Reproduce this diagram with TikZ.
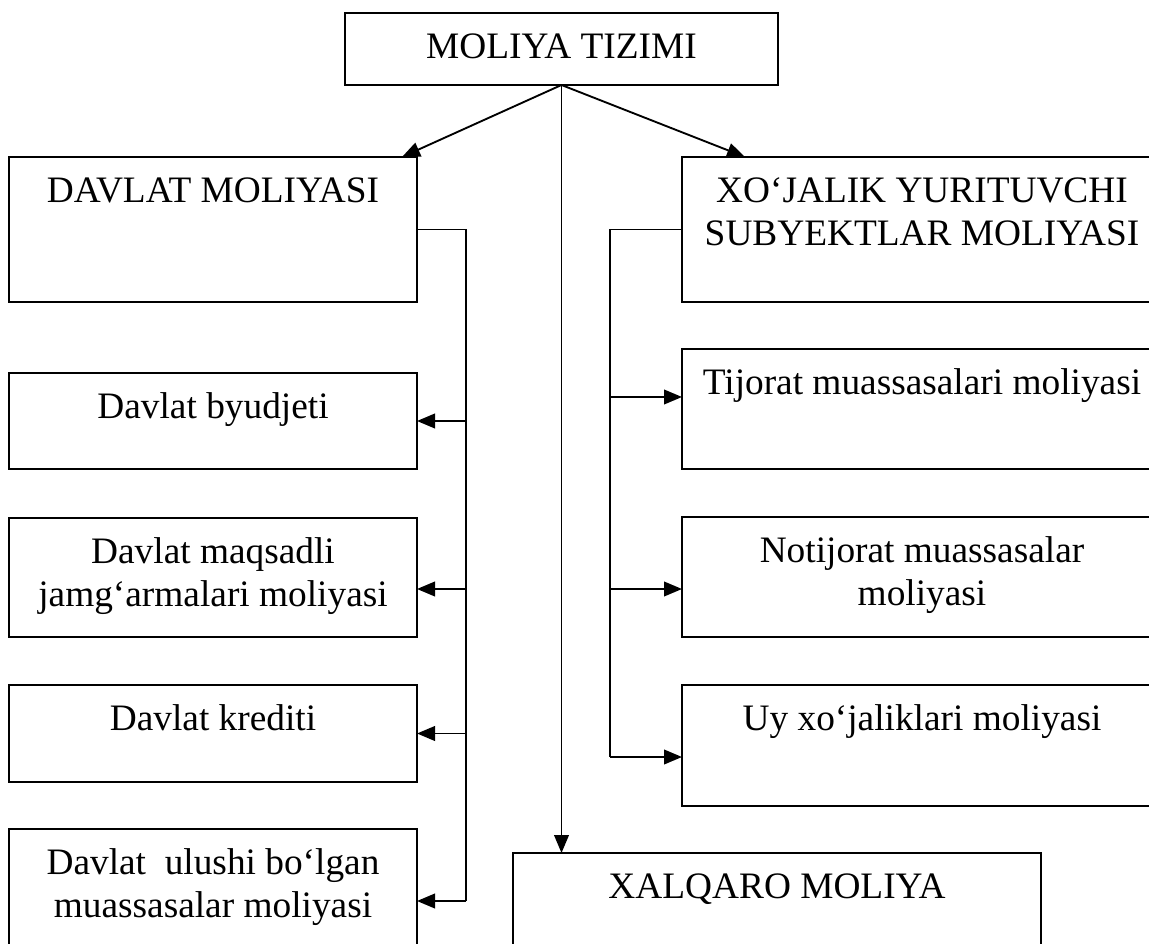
\documentclass[tikz,border=0pt]{standalone}
\usepackage{fontspec}
\setmainfont{Liberation Serif}
\usetikzlibrary{arrows.meta}

\tikzset{
  blok/.style={draw, line width=1.4pt, inner sep=0pt, outer sep=0pt},
  matn/.style={anchor=north, inner sep=0pt, text height=33.75pt, align=center,
    font=\fontsize{28}{32.25}\selectfont},
  matnii/.style={matn, text height=66pt},
  chiziq/.style={line width=1.4pt},
  strelka/.style={line width=1.4pt, -{Triangle[length=13.5pt,width=11pt]}}
}

\begin{document}
\begin{tikzpicture}[x=0.75pt,y=0.75pt,yscale=-1,xscale=1]
%set diagram frame, boxes on the right and at the bottom run out of it
\path[use as bounding box, clip] (0,0) rectangle (1149,944);

%Shape: Rectangle [top]
\node[blok, minimum width=324.75pt, minimum height=54pt, label={[matn]north:MOLIYA TIZIMI}] (mt) at (561.5,49) {};
%Shape: Rectangle [left column]
\node[blok, minimum width=306pt, minimum height=108.75pt, label={[matn]north:DAVLAT MOLIYASI}] (dm) at (213,229.5) {};
\node[blok, minimum width=306pt, minimum height=72pt, label={[matn]north:Davlat byudjeti}] (by) at (213,421) {};
\node[blok, minimum width=306pt, minimum height=89.25pt, label={[matnii]north:Davlat maqsadli\\jamg‘armalari moliyasi}] (mq) at (213,577.5) {};
\node[blok, minimum width=306pt, minimum height=72.75pt, label={[matn]north:Davlat krediti}] (kr) at (213,733.5) {};
\node[blok, minimum width=306pt, minimum height=90.75pt, label={[matnii]north:Davlat\ \ ulushi bo‘lgan\\muassasalar moliyasi}] (ul) at (213,889.5) {};
%Shape: Rectangle [right column]
\node[blok, minimum width=360pt, minimum height=108.75pt, label={[matnii]north:XO‘JALIK YURITUVCHI\\SUBYEKTLAR MOLIYASI}] (xj) at (922,229.5) {};
\node[blok, minimum width=360pt, minimum height=90pt, label={[matn]north:Tijorat muassasalari moliyasi}] (tj) at (922,409) {};
\node[blok, minimum width=360pt, minimum height=90pt, label={[matnii]north:Notijorat muassasalar\\moliyasi}] (nt) at (922,577) {};
\node[blok, minimum width=360pt, minimum height=90.75pt, label={[matn]north:Uy xo‘jaliklari moliyasi}] (uy) at (922,745.5) {};
%Shape: Rectangle [bottom]
\node[blok, minimum width=396pt, minimum height=108.75pt, label={[matn]north:XALQARO MOLIYA}] (xq) at (777,925.5) {};

%Straight Lines [from the top]
\draw[strelka] (mt.south) -- ([xshift=-11.25pt]dm.north east);
\draw[strelka] (mt.south) -- ([xshift=47.25pt]xj.north west);
\draw[strelka] (mt.south) -- (mt.south |- xq.north);

%Straight Lines [left bracket]
\coordinate (lb) at (466,229.5);
\coordinate (lbz) at (466,901);
\coordinate (lmq) at (466,589);
\draw[chiziq] (dm.east) -- (lb) -- (lbz);
\draw[strelka] (lb |- by.east) -- (by.east);
\draw[strelka] (lmq) -- (lmq -| mq.east);
\draw[strelka] (lb |- kr.east) -- (kr.east);
\draw[strelka] (lbz) -- (lbz -| ul.east);

%Straight Lines [right bracket]
\coordinate (rb) at (610,229.5);
\coordinate (rbz) at (610,757);
\coordinate (rtj) at (610,397);
\coordinate (rnt) at (610,589);
\draw[chiziq] (xj.west) -- (rb) -- (rbz);
\draw[strelka] (rtj) -- (rtj -| tj.west);
\draw[strelka] (rnt) -- (rnt -| nt.west);
\draw[strelka] (rbz) -- (rbz -| uy.west);

\end{tikzpicture}
\end{document}
